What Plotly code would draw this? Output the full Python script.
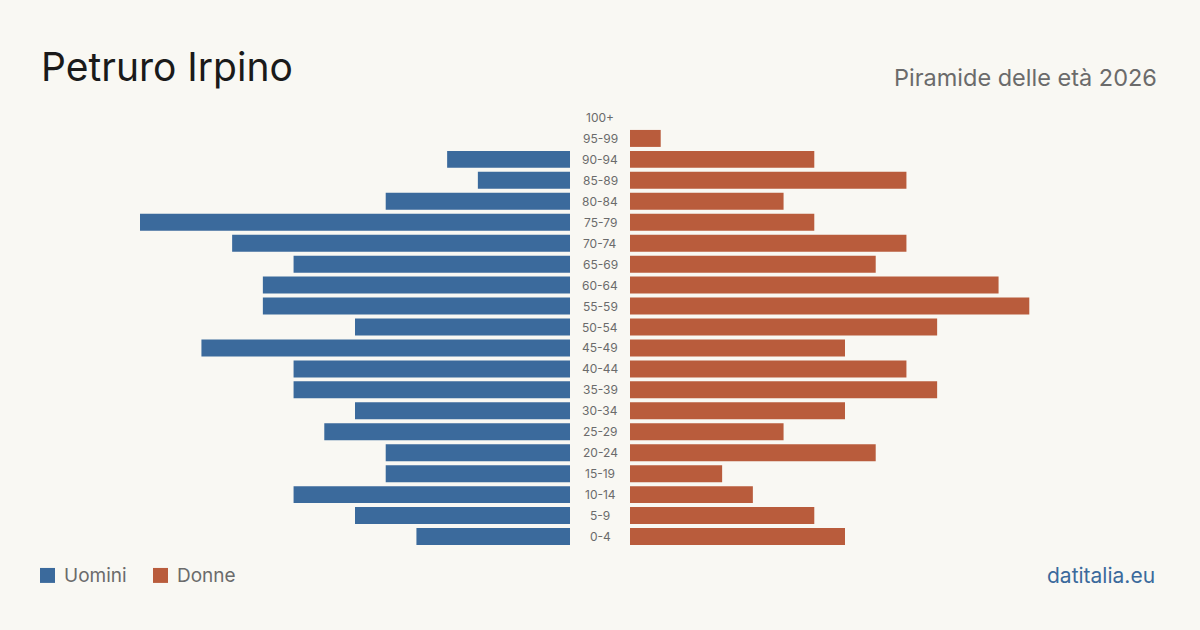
import plotly.graph_objects as go

age_groups = ["0-4", "5-9", "10-14", "15-19", "20-24", "25-29", "30-34", "35-39",
              "40-44", "45-49", "50-54", "55-59", "60-64", "65-69", "70-74", "75-79",
              "80-84", "85-89", "90-94", "95-99", "100+"]
men = [5, 7, 9, 6, 6, 8, 7, 9, 9, 12, 7, 10, 10, 9, 11, 14, 6, 3, 4, 0, 0]
women = [7, 6, 4, 3, 8, 5, 7, 10, 9, 7, 10, 13, 12, 8, 9, 6, 5, 9, 6, 1, 0]

title = "Petruro Irpino"
subtitle = "Piramide delle età 2026"
source = "datitalia.eu"
men_label = "Uomini"
women_label = "Donne"

BLUE = "#3b6a9c"
ORANGE = "#b95c3c"
BG = "#f9f8f3"
FONT = "Inter, sans-serif"

W, H = 1200, 630
TOP, BOTTOM = 106.5, 547.5

def px(x):
    return x / W

def py(y):
    # convert pixel y (from top) to paper coords relative to plot area
    return (BOTTOM - y) / (BOTTOM - TOP)

xmax = max(max(men), max(women))

fig = go.Figure()
fig.add_trace(go.Bar(y=age_groups, x=men, orientation="h", marker_color=BLUE,
                     marker_line_width=0,
                     xaxis="x", yaxis="y", name=men_label, showlegend=False,
                     hoverinfo="x+y"))
fig.add_trace(go.Bar(y=age_groups, x=women, orientation="h", marker_color=ORANGE,
                     marker_line_width=0,
                     xaxis="x2", yaxis="y", name=women_label, showlegend=False,
                     hoverinfo="x+y"))

annotations = []
for g in age_groups:
    annotations.append(dict(x=0.5, xref="paper", y=g, yref="y", text=g,
                            showarrow=False, font=dict(family=FONT, size=12, color="#6b6b6b"),
                            xanchor="center", yanchor="middle"))

annotations += [
    dict(x=px(39), y=py(66), xref="paper", yref="paper", text=title, showarrow=False,
         xanchor="left", yanchor="middle", font=dict(family=FONT, size=39, color="#1a1a1a")),
    dict(x=px(1159), y=py(77), xref="paper", yref="paper", text=subtitle, showarrow=False,
         xanchor="right", yanchor="middle", font=dict(family=FONT, size=23.5, color="#6b6b6b")),
    dict(x=px(1157), y=py(576), xref="paper", yref="paper", text=source, showarrow=False,
         xanchor="right", yanchor="middle", font=dict(family=FONT, size=21, color="#3b6a9c")),
    dict(x=px(62), y=py(576.5), xref="paper", yref="paper", text=men_label, showarrow=False,
         xanchor="left", yanchor="middle", font=dict(family=FONT, size=19, color="#6b6b6b")),
    dict(x=px(175), y=py(576.5), xref="paper", yref="paper", text=women_label, showarrow=False,
         xanchor="left", yanchor="middle", font=dict(family=FONT, size=19, color="#6b6b6b")),
]

shapes = [
    dict(type="rect", xref="paper", yref="paper", x0=px(40), x1=px(55),
         y0=py(583.5), y1=py(568.5), fillcolor=BLUE, line_width=0),
    dict(type="rect", xref="paper", yref="paper", x0=px(153), x1=px(168),
         y0=py(583.5), y1=py(568.5), fillcolor=ORANGE, line_width=0),
]

fig.update_layout(
    width=W, height=H,
    paper_bgcolor=BG, plot_bgcolor=BG,
    margin=dict(l=0, r=0, t=TOP, b=H - BOTTOM),
    bargap=0.19,
    xaxis=dict(domain=[140/W, 570/W], range=[xmax, 0], visible=False, fixedrange=True),
    xaxis2=dict(domain=[630/W, 1060/W], range=[0, xmax], visible=False, fixedrange=True),
    yaxis=dict(categoryorder="array", categoryarray=age_groups, visible=False,
               range=[-0.5, len(age_groups) - 0.5], fixedrange=True),
    annotations=annotations,
    shapes=shapes,
    showlegend=False,
)

fig.write_html("out.html")
